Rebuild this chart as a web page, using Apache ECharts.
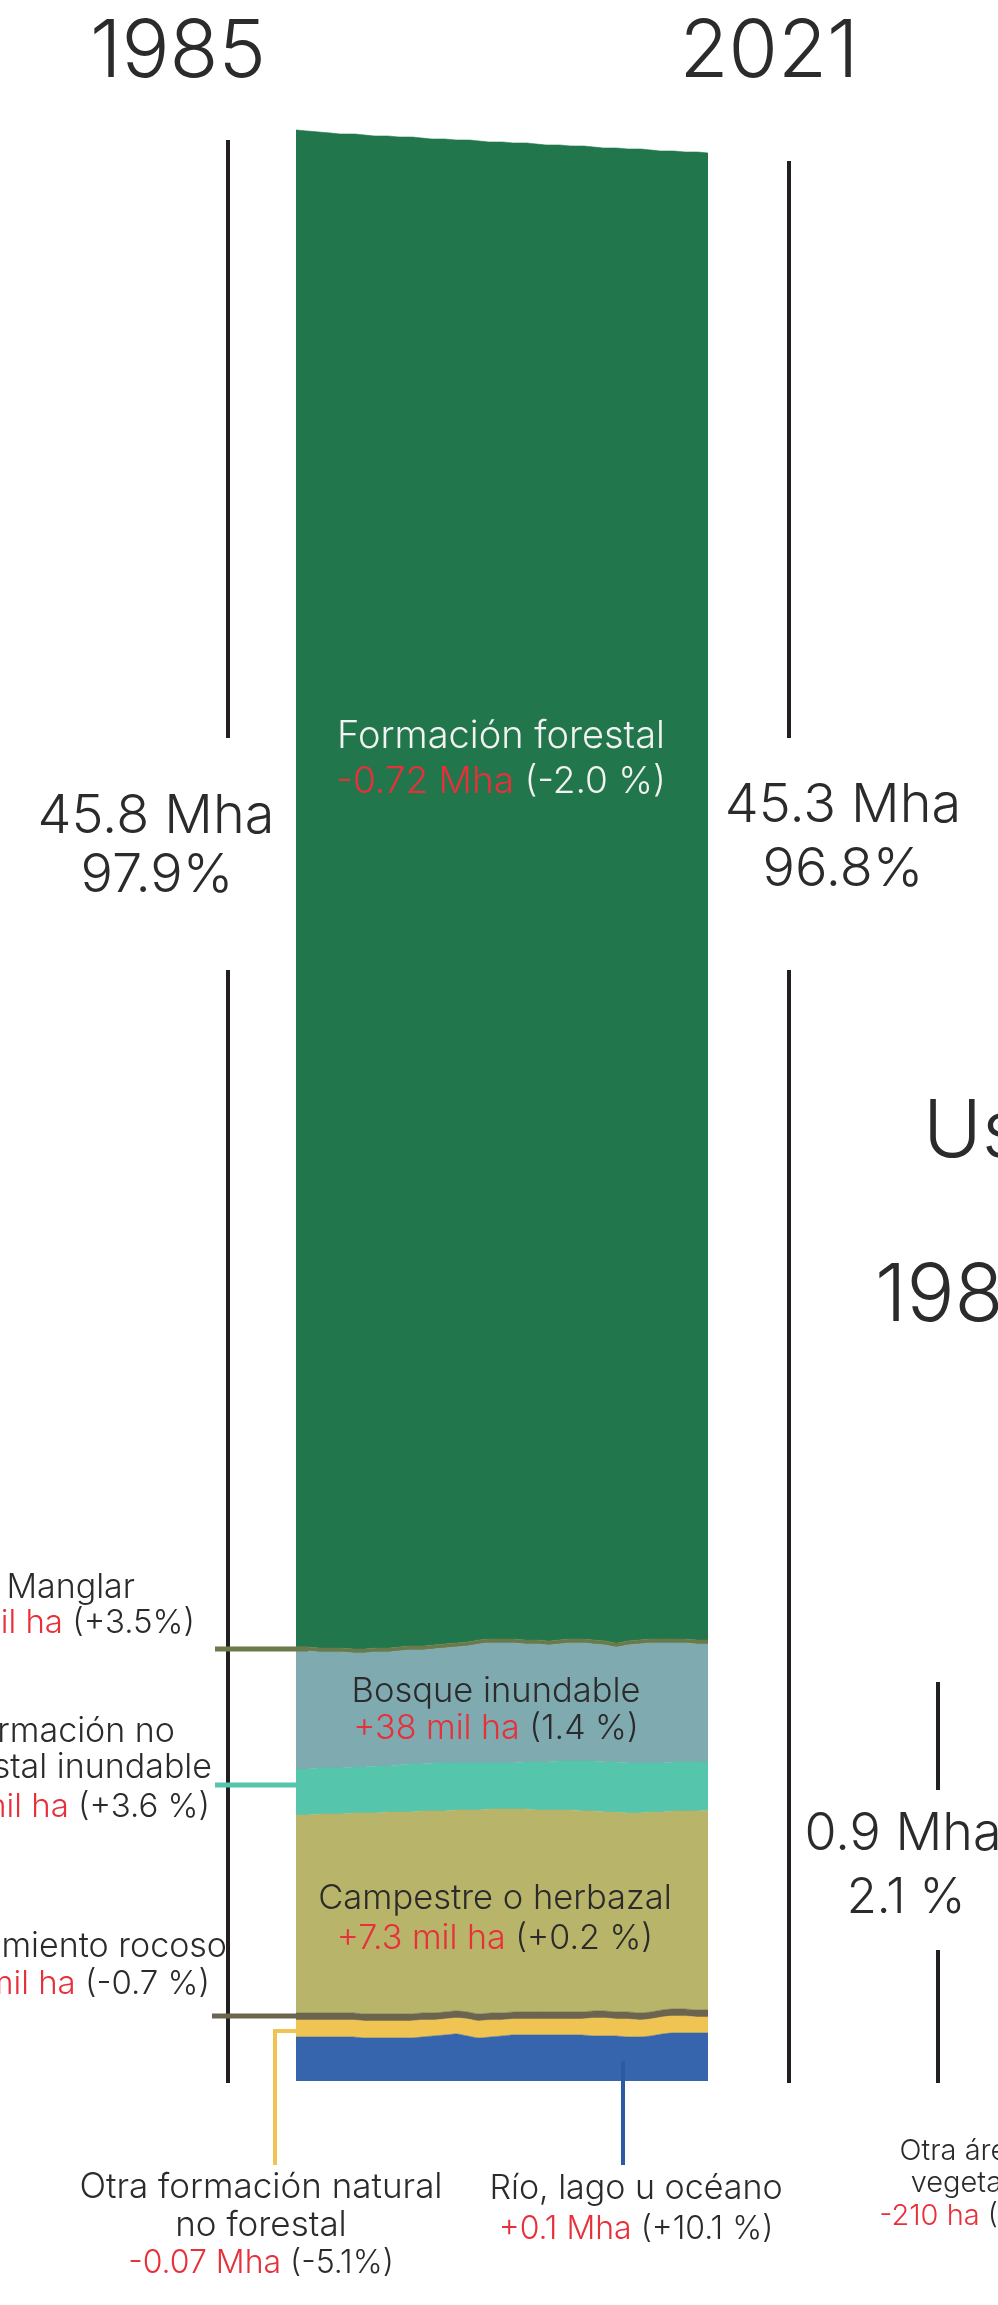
<!DOCTYPE html>
<html>
<head>
<meta charset="utf-8">
<script src="https://cdn.jsdelivr.net/npm/echarts@6/dist/echarts.min.js"></script>
<style>
html, body { margin: 0; padding: 0; background: #ffffff; }
#chart { width: 998px; height: 2305px; }
</style>
</head>
<body>
<div id="chart"></div>
<script>
// Years on the horizontal axis
const years = [1985,1986,1987,1988,1989,1990,1991,1992,1993,1994,1995,1996,1997,1998,1999,2000,
  2001,2002,2003,2004,2005,2006,2007,2008,2009,2010,2011,2012,2013,2014,2015,2016,2017,2018,2019,2020,2021];

// Band thickness of each class per year (display units of the stacked axis)
const rio = [44,44,44,44,44,44,43,43,43,43,43,44,45,46,47,45,43,44,45,46,46,46,46,46,46,46,45,45,45,44,44,45,47,48,48,48,48];
const otraFormacion = [17,17,17,17,17,17,17,17,17,17,17,17,16,16,16,17,17,17,16,16,16,16,16,16,16,16,18,18,17,18,17,17,17,17,17,16,16];
const afloramiento = [7,7,7,7,7,7,7,7,7,7,7,7,7,7,7,7,7,7,7,7,7,7,7,7,7,7,7,7,7,7,7,7,7,7,7,7,7];
const campestre = [198,198,199,199,199,200,201,201,202,202,202,202,202,201,201,202,204,204,204,203,203,202,202,202,202,201,200,199,200,199,200,200,198,198,198,199,200];
const noForestalInundable = [46,46,46,46,46,46,46,47,46,47,48,47,48,48,47,47,47,46,46,46,47,48,48,49,49,50,50,50,50,50,50,49,49,49,49,49,48];
const bosqueInundable = [118,118,116,116,116,114,114,114,114,114,114,114,114,115,116,117,119,120,120,120,118,118,117,117,118,118,117,117,115,118,119,120,120,119,119,118,118];
const manglar = [4,4,4,4,4,4,4,4,4,4,4,4,4,4,4,4,4,4,4,4,4,4,4,4,4,4,4,4,4,4,4,4,4,4,4,4,4];
const forestal = [1517,1516,1516,1515,1514,1515,1514,1512,1512,1510,1509,1508,1506,1505,1503,1502,1499,1497,1497,1496,1497,1496,1496,1495,1493,1493,1493,1493,1495,1492,1491,1489,1488,1488,1487,1488,1487];

// Stacking order, bottom to top
const layers = [
  { name: 'Río, lago u océano', data: rio, color: '#3665ad' },
  { name: 'Otra formación natural no forestal', data: otraFormacion, color: '#f0c452' },
  { name: 'Afloramiento rocoso', data: afloramiento, color: '#6b6550' },
  { name: 'Campestre o herbazal', data: campestre, color: '#b8b46a' },
  { name: 'Formación natural no forestal inundable', data: noForestalInundable, color: '#55c5ab' },
  { name: 'Bosque inundable', data: bosqueInundable, color: '#7eaab0' },
  { name: 'Manglar', data: manglar, color: '#6b7a4a' },
  { name: 'Formación forestal', data: forestal, color: '#22764b' }
];

const FONT = 'Inter, "Noto Sans", sans-serif';
const DARK = '#2b2b2b';
const RED = '#e8303a';
const BAR = '#231f20';

function txt(x, y, text, size, opts) {
  opts = opts || {};
  return {
    type: 'text', silent: true, z: 100,
    style: {
      x: x, y: y, text: text,
      fontFamily: FONT, fontWeight: opts.weight || 300, fontSize: size,
      fill: opts.color || DARK,
      align: opts.align || 'center', verticalAlign: 'middle',
      rich: {
        r: { fill: RED, fontFamily: FONT, fontWeight: opts.weight || 300, fontSize: size },
        d: { fill: opts.color || DARK, fontFamily: FONT, fontWeight: opts.weight || 300, fontSize: size }
      }
    }
  };
}
function seg(x1, y1, x2, y2, color, w) {
  return { type: 'line', silent: true, z: 90, shape: { x1: x1, y1: y1, x2: x2, y2: y2 }, style: { stroke: color, lineWidth: w } };
}
function poly(points, color, w) {
  return { type: 'polyline', silent: true, z: 90, shape: { points: points }, style: { stroke: color, lineWidth: w, fill: null } };
}

const chart = echarts.init(document.getElementById('chart'), null, { renderer: 'canvas' });

chart.setOption({
  animation: false,
  backgroundColor: '#ffffff',
  grid: { left: 296, right: 290, top: 81, bottom: 224 },
  xAxis: { type: 'category', data: years, boundaryGap: false, show: false },
  yAxis: { type: 'value', min: 0, max: 2000, show: false },
  series: layers.map(l => ({
    type: 'line', name: l.name, stack: 'total', data: l.data,
    symbol: 'none', smooth: 0.25, silent: true,
    lineStyle: { width: 0.6, color: l.color },
    itemStyle: { color: l.color },
    areaStyle: { color: l.color, opacity: 1 }
  })),
  graphic: [
    // years
    txt(178, 53, '1985', 80),
    txt(769, 53, '2021', 80),
    // bracket lines
    seg(228, 140, 228, 738, BAR, 4),
    seg(228, 970, 228, 2083, BAR, 4),
    seg(789, 161, 789, 738, BAR, 4),
    seg(789, 970, 789, 2083, BAR, 4),
    seg(938, 1682, 938, 1790, BAR, 4),
    seg(938, 1950, 938, 2083, BAR, 4),
    // totals
    txt(156, 817, '45.8 Mha', 54),
    txt(157, 876, '97.9%', 54),
    txt(843, 806, '45.3 Mha', 54),
    txt(843, 870, '96.8%', 54),
    txt(903, 1834, '0.9 Mha', 52),
    txt(906, 1898, '2.1 %', 49),
    // neighbouring panel title
    txt(923, 1133, 'Uso agropecuario', 80, { align: 'left' }),
    txt(875, 1297, '1985', 80, { align: 'left' }),
    // labels inside bands
    txt(501, 737, 'Formación forestal', 38, { color: '#f2f2f2' }),
    txt(501, 782, '{r|-0.72 Mha} (-2.0 %)', 37, { color: '#f2f2f2' }),
    txt(496, 1692, 'Bosque inundable', 34.5),
    txt(496, 1729, '{r|+38 mil ha} (1.4 %)', 34),
    txt(495, 1899, 'Campestre o herbazal', 34.5),
    txt(495, 1939, '{r|+7.3 mil ha} (+0.2 %)', 34),
    // leader lines
    seg(215, 1649, 308, 1649, '#6b7a4a', 5),
    seg(215, 1785, 308, 1785, '#55c5ab', 5),
    seg(212, 2016, 310, 2016, '#6b6550', 5),
    poly([[297, 2031], [275, 2031], [275, 2165]], '#f0c452', 4),
    seg(623, 2061, 623, 2165, '#2c5aa5', 4),
    // labels on the left
    txt(135, 1588, 'Manglar', 34, { align: 'right' }),
    txt(195, 1623, '{r|+0.3 mil ha} (+3.5%)', 33, { align: 'right' }),
    txt(175, 1732, 'Formación no', 34, { align: 'right' }),
    txt(212, 1768, 'forestal inundable', 34, { align: 'right' }),
    txt(210, 1807, '{r|+1.6 mil ha} (+3.6 %)', 33, { align: 'right' }),
    txt(227, 1947, 'Afloramiento rocoso', 34, { align: 'right' }),
    txt(210, 1984, '{r|-0.1 mil ha} (-0.7 %)', 33, { align: 'right' }),
    // labels below
    txt(261, 2187, 'Otra formación natural', 35),
    txt(261, 2225, 'no forestal', 35),
    txt(261, 2263, '{r|-0.07 Mha} (-5.1%)', 32),
    txt(636, 2189, 'Río, lago u océano', 34),
    txt(636, 2229, '{r|+0.1 Mha} (+10.1 %)', 32),
    txt(985, 2151, 'Otra área sin', 29),
    txt(985, 2183, 'vegetación', 29),
    txt(985, 2216, '{r|-210 ha} (-0.1 %)', 29)
  ]
});
</script>
</body>
</html>
